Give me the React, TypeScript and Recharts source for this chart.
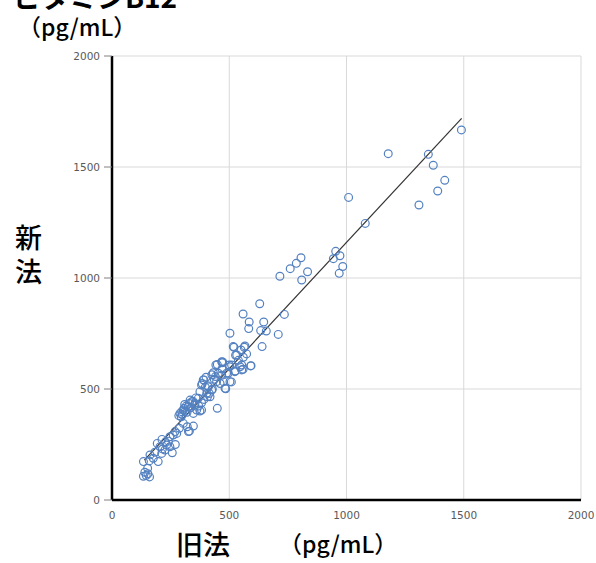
import React from 'react';
import { ScatterChart, Scatter, XAxis, YAxis, CartesianGrid, ReferenceLine } from 'recharts';

// 旧法 (x) / 新法 (y) measured values, pg/mL
const oldMethod = [
	1490, 1349, 1178, 1370, 1419, 1389, 1309, 1009, 1080, 954, 944, 972, 984, 969,
	806, 834, 809, 786, 760, 716, 630, 559, 735, 585, 647, 583, 634, 658, 709, 503,
	640, 520, 564, 550, 574, 527, 560, 539, 472, 593, 553, 500,
	449, 470, 432, 469, 502, 525, 559, 426, 468, 496, 509, 475, 389, 436, 385, 408,
	461, 485, 428, 375, 404, 418, 449, 368, 333, 354, 325, 304, 382, 347,
	546, 553, 524, 489, 453, 441, 446, 503, 591, 510, 532, 567, 517, 482, 443, 468,
	392, 401, 382, 398, 411, 425, 415, 407, 392, 382, 370, 375, 361, 351, 340, 330,
	316, 307, 297, 290, 304, 321, 347, 326, 287, 269, 276, 261,
	300, 312, 335, 320, 310, 345, 358, 295, 285, 330,
	257, 247, 233, 226, 212, 205, 213, 193, 183, 162, 197, 176, 159, 134, 152, 134,
	146, 160, 153, 140, 247, 240, 270, 228, 215,
];
const newMethod = [
	1667, 1557, 1560, 1508, 1440, 1392, 1329, 1363, 1246, 1120, 1087, 1100, 1052, 1021,
	1091, 1028, 991, 1066, 1042, 1008, 884, 838, 836, 802, 802, 772, 763, 761, 746, 751,
	691, 688, 688, 676, 658, 652, 643, 629, 622, 605, 608, 608,
	610, 618, 573, 590, 600, 581, 589, 564, 562, 571, 532, 533, 541, 544, 525, 515,
	525, 501, 499, 488, 481, 465, 413, 458, 450, 435, 420, 405, 405, 390,
	600, 586, 578, 571, 571, 556, 533, 533, 604, 608, 653, 694, 691, 503, 608, 623,
	541, 553, 518, 508, 510, 495, 480, 465, 453, 438, 423, 401, 405, 428, 443, 435,
	423, 413, 398, 390, 345, 330, 333, 308, 323, 308, 300, 293,
	385, 400, 415, 395, 430, 445, 460, 375, 380, 310,
	213, 240, 248, 225, 210, 240, 273, 255, 215, 203, 173, 188, 176, 173, 143, 107,
	110, 104, 118, 125, 285, 265, 250, 262, 230,
];

const fitX = [138, 1491];
const fitY = [180, 1719];

const axisTicks = [0, 500, 1000, 1500, 2000];

const points = oldMethod.map((x, i) => ({ x, y: newMethod[i] }));

const Ring = (props: any) => {
	const { cx, cy } = props;
	if (cx == null || cy == null) return null;
	return <circle cx={cx} cy={cy} r={3.9} fill="none" stroke="#5380c0" strokeWidth={1.2} />;
};

const tickStyle = { fontFamily: 'DejaVu Sans', fontSize: 10.5, fill: '#595959' };
const jp = '"Noto Sans CJK JP", sans-serif';

export default function App() {
	return (
		<div style={{ position: 'absolute', left: 0, top: 0, width: 596, height: 563, background: '#fff' }}>
			<ScatterChart width={596} height={563} margin={{ top: 56, right: 15, left: 62, bottom: 33 }}>
				<CartesianGrid stroke="#d9d9d9" strokeWidth={1} />
				<XAxis
					type="number"
					dataKey="x"
					domain={[0, 2000]}
					ticks={axisTicks}
					height={30}
					tickLine={false}
					tickSize={6}
					tickMargin={6}
					axisLine={{ stroke: '#000', strokeWidth: 2.5 }}
					tick={tickStyle}
				/>
				<YAxis
					type="number"
					dataKey="y"
					domain={[0, 2000]}
					ticks={axisTicks}
					width={50}
					tickSize={8}
					tickMargin={4}
					tickLine={{ stroke: '#808080' }}
					axisLine={{ stroke: '#000', strokeWidth: 2.5 }}
					tick={tickStyle}
				/>
				<ReferenceLine
					segment={[{ x: fitX[0], y: fitY[0] }, { x: fitX[1], y: fitY[1] }]}
					stroke="#333"
					strokeWidth={1.2}
				/>
				<Scatter data={points} shape={Ring} isAnimationActive={false} />
			</ScatterChart>
			<svg
				width={596}
				height={563}
				style={{ position: 'absolute', left: 0, top: 0, pointerEvents: 'none' }}
			>
				<text x={13} y={8} fontFamily={jp} fontSize={28} fontWeight={700} fill="#000">ビタミンB12</text>
				<text x={18} y={36} fontFamily={jp} fontSize={23} fontWeight={500} fill="#000">（pg/mL）</text>
				<text x={15} y={248} fontFamily={jp} fontSize={27} fontWeight={500} fill="#000">新</text>
				<text x={15} y={282} fontFamily={jp} fontSize={27} fontWeight={500} fill="#000">法</text>
				<text x={176} y={555} fontFamily={jp} fontSize={27} fontWeight={500} fill="#000">旧法</text>
				<text x={279} y={553} fontFamily={jp} fontSize={23} fontWeight={500} fill="#000">（pg/mL）</text>
			</svg>
		</div>
	);
}
